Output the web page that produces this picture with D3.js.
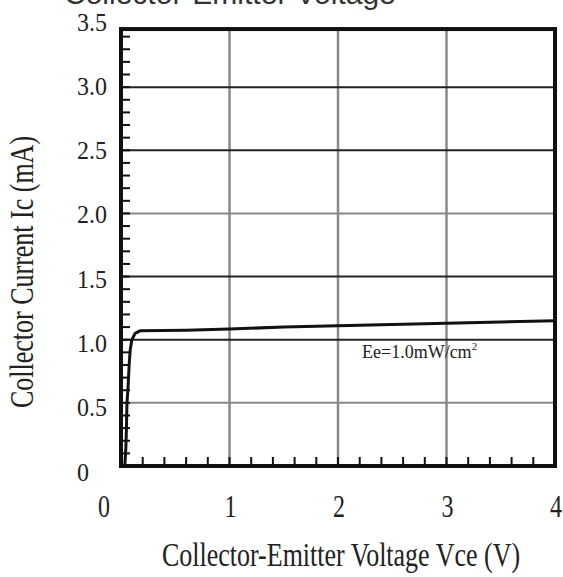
<!DOCTYPE html>
<html><head><meta charset="utf-8">
<script src="https://cdn.jsdelivr.net/npm/d3@7"></script>
<style>html,body{margin:0;padding:0;background:#fff;}svg{display:block;}</style>
</head><body>
<svg id="chart" width="563" height="577"></svg>
<script>
// ---- data ----
const vce = [0.035, 0.045, 0.05, 0.055, 0.065, 0.075, 0.085, 0.10, 0.13, 0.175, 0.6, 1.0, 1.5, 2.0, 2.5, 3.0, 3.5, 4.0];
const ic  = [0.0, 0.15, 0.3, 0.5, 0.62, 0.8, 0.92, 1.0, 1.05, 1.07, 1.075, 1.085, 1.10, 1.11, 1.12, 1.13, 1.14, 1.15];
const xTicks = [0, 1, 2, 3, 4];
const yTicks = [0, 0.5, 1.0, 1.5, 2.0, 2.5, 3.0, 3.5];
const yTickLabels = ["0", "0.5", "1.0", "1.5", "2.0", "2.5", "3.0", "3.5"];
const darkGrid = [1.0, 1.5, 2.5, 3.0];
const title = "Collector-Emitter Voltage";
const xTitle = "Collector-Emitter Voltage Vce (V)";
const yTitle = "Collector Current Ic (mA)";
const legendMain = "Ee=1.0mW/cm";
const legendSup = "2";

// ---- scales ----
const x = d3.scaleLinear().domain([0, 4]).range([121, 555]);
const y = d3.scaleLinear().domain([0, 3.5]).range([466, 24]);
const yLab = d3.scaleLinear().domain([0, 3.5]).range([472, 22]);
const yTop = 3.46;

const svg = d3.select("#chart");
const serif = "'Liberation Serif','Times New Roman',serif";

// title (cut at top, as in the reference)
svg.append("text").attr("x", 64).attr("y", 4)
  .attr("font-family", "'Liberation Sans',Arial,sans-serif").attr("font-size", 30)
  .attr("fill", "#333").text(title);

// grid lines
svg.append("g").selectAll("line").data([1, 2, 3]).join("line")
  .attr("x1", d => x(d)).attr("x2", d => x(d))
  .attr("y1", y(yTop)).attr("y2", y(0))
  .attr("stroke", "#8a8a8a").attr("stroke-width", 2.5);
svg.append("g").selectAll("line").data([0.5, 1.0, 1.5, 2.0, 2.5, 3.0]).join("line")
  .attr("x1", x(0)).attr("x2", x(4))
  .attr("y1", d => y(d)).attr("y2", d => y(d))
  .attr("stroke", d => darkGrid.includes(d) ? "#222" : "#888")
  .attr("stroke-width", 2);

// minor ticks
const yMinor = d3.range(1, 35).map(i => i / 10);
svg.append("g").selectAll("line").data(yMinor).join("line")
  .attr("x1", x(0)).attr("x2", x(0) + 9)
  .attr("y1", d => y(d)).attr("y2", d => y(d))
  .attr("stroke", "#111").attr("stroke-width", 2);
const xMinor = d3.range(1, 20).map(i => i / 5);
svg.append("g").selectAll("line").data(xMinor).join("line")
  .attr("x1", d => x(d)).attr("x2", d => x(d))
  .attr("y1", y(0)).attr("y2", y(0) - 9)
  .attr("stroke", "#111").attr("stroke-width", 2);

// frame
svg.append("rect").attr("x", x(0)).attr("y", y(yTop))
  .attr("width", x(4) - x(0)).attr("height", y(0) - y(yTop))
  .attr("fill", "none").attr("stroke", "#111").attr("stroke-width", 4);

// curve
const line = d3.line().x((d, i) => x(vce[i])).y(d => y(d));
svg.append("path").datum(ic).attr("d", line)
  .attr("fill", "none").attr("stroke", "#111").attr("stroke-width", 3)
  .attr("stroke-linejoin", "round");

// helper for stretched text
function stext(g, tx, ty, str, fs, sx, sy, anchor, rot) {
  return g.append("text")
    .attr("transform", `translate(${tx},${ty})` + (rot ? ` rotate(${rot})` : "") + ` scale(${sx},${sy})`)
    .attr("font-family", serif).attr("font-size", fs)
    .attr("text-anchor", anchor).attr("fill", "#222").text(str);
}

// y tick labels
const gl = svg.append("g");
yTicks.forEach((d, i) => {
  stext(gl, 77, yLab(d) + 8.5, yTickLabels[i], 24, 1, 1.05, "start");
});
// x tick labels
xTicks.forEach(d => {
  const px = x(d) + (d === 0 ? -17 : 1);
  stext(gl, px, 517, String(d), 24, 1, 1.3, "middle");
});

// axis titles
stext(gl, 341, 566, xTitle, 26, 1, 1.3, "middle");
stext(gl, 33, 272, yTitle, 26, 1, 1.3, "middle", -90);

// legend
const lg = svg.append("text").attr("x", 362).attr("y", 358)
  .attr("font-family", serif).attr("font-size", 18).attr("fill", "#222");
lg.append("tspan").text(legendMain);
lg.append("tspan").attr("dy", -8).attr("font-size", 11).text(legendSup);
</script>
</body></html>
